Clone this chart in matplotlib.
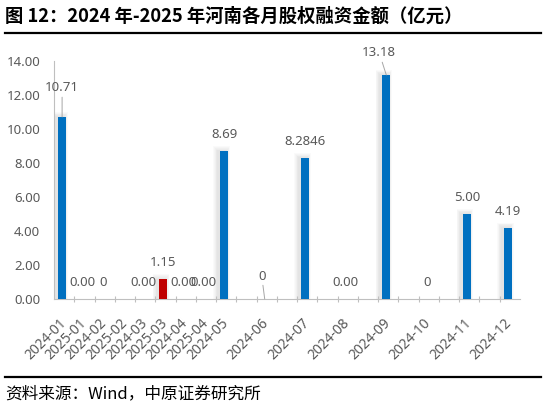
import matplotlib
matplotlib.use("Agg")
import matplotlib.pyplot as plt
from matplotlib.lines import Line2D

plt.rcParams['font.family'] = ['Noto Sans', 'Noto Sans CJK SC', 'DejaVu Sans']

# ---- data ----
categories = ["2024-01", "2025-01", "2024-02", "2025-02", "2024-03", "2025-03",
              "2024-04", "2025-04", "2024-05", "", "2024-06", "", "2024-07", "",
              "2024-08", "", "2024-09", "", "2024-10", "", "2024-11", "", "2024-12"]
values = [10.71, 0.0, 0.0, None, 0.0, 1.15, 0.0, 0.0, 8.69, None, 0.0, None,
          8.2846, None, 0.0, None, 13.18, None, 0.0, None, 5.00, None, 4.19]
value_labels = ["10.71", "0.00", "0", "", "0.00", "1.15", "0.00", "0.00", "8.69", "",
                "0", "", "8.2846", "", "0.00", "", "13.18", "", "0", "", "5.00", "", "4.19"]
years = [c[:4] for c in categories]

BLUE = "#0070C0"
RED = "#C00000"
TXT = "#595959"
AX = "#BFBFBF"

fig = plt.figure(figsize=(5.46, 4.09), dpi=100)
ax = fig.add_axes([54 / 546, 1 - 299 / 409, 466 / 546, 238 / 409])

xs = list(range(len(categories)))
off = -0.1
bw = 0.4
for i, v in enumerate(values):
    if v is None or v == 0:
        continue
    col = RED if years[i] == "2025" else BLUE
    # soft shadow
    for k in range(1, 7):
        ax.bar(i + off - 0.12, v + 0.05 * k, width=bw + 0.07 * k, color="#7f7f7f",
               alpha=0.035, linewidth=0, zorder=1)
    ax.bar(i + off, v, width=bw, color=col, linewidth=0, zorder=3)

# data labels
special = {0: (0, 29, True), 16: (-7, 22, True), 10: (-3, 23, True)}
for i, (v, lab) in enumerate(zip(values, value_labels)):
    if v is None or lab == "":
        continue
    dx, dy, lead = special.get(i, (0, 16.5, False))
    if lead:
        ax.annotate(lab, xy=(i + off, v), xytext=(dx, dy), textcoords="offset pixels",
                    ha="center", va="center", fontsize=9.5, color=TXT, zorder=5,
                    arrowprops=dict(arrowstyle="-", color="#A6A6A6", lw=0.7,
                                    shrinkA=0, shrinkB=0))
    else:
        ax.annotate(lab, xy=(i + off, v), xytext=(dx, dy), textcoords="offset pixels",
                    ha="center", va="center", fontsize=9.5, color=TXT, zorder=5)

ax.set_xlim(-0.5, len(categories) - 0.5)
ax.set_ylim(0, 14)
ax.set_yticks([0, 2, 4, 6, 8, 10, 12, 14])
ax.set_yticklabels([f"{t:.2f}" for t in [0, 2, 4, 6, 8, 10, 12, 14]])
ax.tick_params(axis="y", length=0, pad=10, labelsize=9.5, labelcolor=TXT)

ax.set_xticks(xs)
ax.set_xticklabels(categories, rotation=45, ha="right", va="center",
                   rotation_mode="anchor")
ax.tick_params(axis="x", length=0, pad=16, labelsize=10, labelcolor=TXT)
ax.set_xticks([x - 0.5 for x in range(1, len(categories))], minor=True)
ax.tick_params(axis="x", which="minor", length=4, direction="inout", color=AX, width=0.8)

for s in ["top", "right"]:
    ax.spines[s].set_visible(False)
for s in ["left", "bottom"]:
    ax.spines[s].set_color(AX)
    ax.spines[s].set_linewidth(0.8)

# title, rules, source
fig.text(5 / 546, 1 - 16 / 409, "图 12：2024 年-2025 年河南各月股权融资金额（亿元）",
         family=["Noto Sans CJK SC", "DejaVu Sans"], weight="bold", fontsize=13.2,
         color="black", ha="left", va="center")
fig.add_artist(Line2D([5 / 546, 541 / 546], [1 - 32.5 / 409] * 2, color="black", lw=1.6))
fig.add_artist(Line2D([5 / 546, 541 / 546], [1 - 377 / 409] * 2, color="black", lw=1.6))
fig.text(5 / 546, 1 - 394 / 409, "资料来源：Wind，中原证券研究所",
         family=["Noto Sans CJK SC", "DejaVu Sans"], fontsize=12, weight="light",
         color="black", ha="left", va="center")

fig.savefig("out.png", dpi=100)
